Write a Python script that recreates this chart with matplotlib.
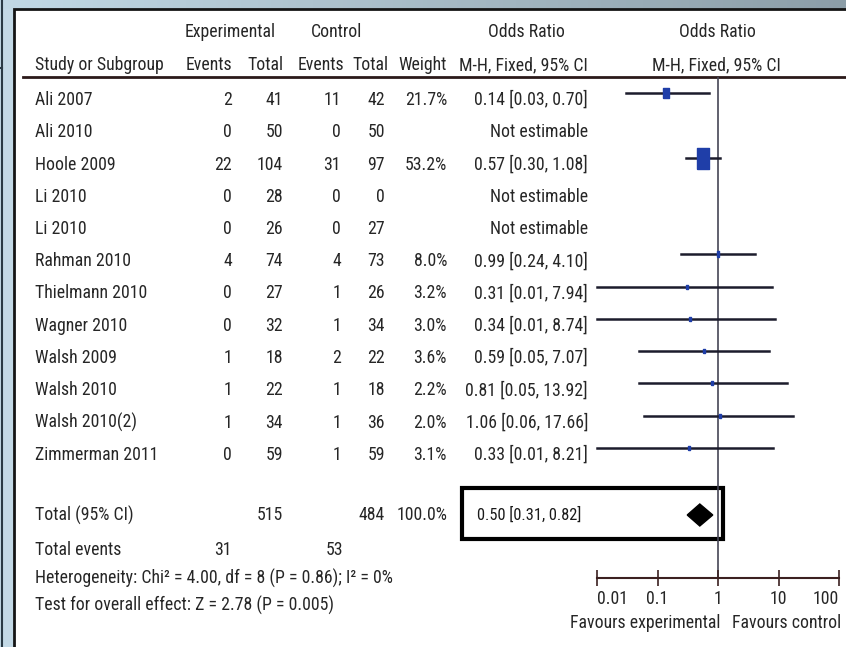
import numpy as np
import matplotlib
matplotlib.use('Agg')
import matplotlib.pyplot as plt
from matplotlib import font_manager
from matplotlib.font_manager import FontProperties
from matplotlib.textpath import TextPath
from matplotlib.patches import Rectangle, Polygon
from matplotlib.path import Path

# data
studies = ['Ali 2007', 'Ali 2010', 'Hoole 2009', 'Li 2010', 'Li 2010', 'Rahman 2010',
           'Thielmann 2010', 'Wagner 2010', 'Walsh 2009', 'Walsh 2010', 'Walsh 2010(2)',
           'Zimmerman 2011']
exp_events = [2, 0, 22, 0, 0, 4, 0, 0, 1, 1, 1, 0]
exp_total = [41, 50, 104, 28, 26, 74, 27, 32, 18, 22, 34, 59]
ctrl_events = [11, 0, 31, 0, 0, 4, 1, 1, 2, 1, 1, 1]
ctrl_total = [42, 50, 97, 0, 27, 73, 26, 34, 22, 18, 36, 59]
weight = [21.7, None, 53.2, None, None, 8.0, 3.2, 3.0, 3.6, 2.2, 2.0, 3.1]
odds = [0.14, None, 0.57, None, None, 0.99, 0.31, 0.34, 0.59, 0.81, 1.06, 0.33]
ci_low = [0.03, None, 0.30, None, None, 0.24, 0.01, 0.01, 0.05, 0.05, 0.06, 0.01]
ci_high = [0.70, None, 1.08, None, None, 4.10, 7.94, 8.74, 7.07, 13.92, 17.66, 8.21]

tot_exp, tot_ctrl = 515, 484
tot_exp_ev, tot_ctrl_ev = 31, 53
tot_or, tot_lo, tot_hi = 0.50, 0.31, 0.82
ticks = [0.01, 0.1, 1, 10, 100]
tick_labels = ['0.01', '0.1', '1', '10', '100']


# find a narrow/condensed sans font if one is installed
def pick_font():
    fl = font_manager.fontManager.ttflist
    def ok(f):
        return f.style == 'normal' and f.weight in (400, 'normal', 'regular')
    for nm in ['Liberation Sans Narrow', 'Arial Narrow', 'Roboto Condensed',
               'Open Sans Condensed', 'Noto Sans Condensed']:
        for f in fl:
            if f.name == nm and ok(f):
                return f.fname
    for nm in ['DejaVu Sans', 'Noto Sans', 'Open Sans', 'Roboto', 'Liberation Sans']:
        for f in fl:
            if f.name == nm and ok(f) and f.stretch in ('condensed', 'semi-condensed', 'extra-condensed', 75, 87, 62):
                return f.fname
    for f in fl:
        low = f.fname.lower()
        if ('narrow' in low or 'condensed' in low) and 'sans' in low and 'mono' not in low \
                and 'bold' not in low and 'italic' not in low and 'oblique' not in low \
                and 'light' not in low and 'medium' not in low and 'semi' not in low \
                and 'extra' not in low and 'thin' not in low and 'black' not in low:
            return f.fname
    return None


fpath = pick_font()
if fpath:
    base = FontProperties(fname=fpath)
else:
    base = FontProperties(family='Liberation Sans')

# size the font so the header text spans about what it does in the picture
tp = TextPath((0, 0), 'Study or Subgroup', size=12, prop=base)
wpx = (tp.get_extents().x1 - tp.get_extents().x0) * 100 / 72
fs = min(12 * 127 / wpx, 13.5)
prop = base.copy()
prop.set_size(fs)
prop_small = base.copy()
prop_small.set_size(fs * 0.92)

W, H = 846, 647
fig = plt.figure(figsize=(W / 100, H / 100), dpi=100)
fig.patch.set_facecolor('#c3d9e6')

# background axes in pixel coords
bg = fig.add_axes([0, 0, 1, 1])
bg.set_xlim(0, W)
bg.set_ylim(H, 0)
bg.axis('off')

grad = np.linspace(0, 1, 200)
cols = np.array([[0.76, 0.85, 0.90]]) * (1 - grad[:, None]) + np.array([[0.55, 0.62, 0.66]]) * grad[:, None]
bg.imshow(cols[None, :, :], extent=(0, W, 9, 0), aspect='auto')
bg.plot([2, 2], [0, H], color='#2a3a45', lw=1.5)
bg.plot([0, 2], [68, 68], color='#2a3a45', lw=1.5)
bg.add_patch(Rectangle((14, 9), W, H, facecolor='white', edgecolor='#151515', lw=2))

tc = '#262626'
xs_label = 35


def txt(x, y, s, ha='left', color=tc, fp=None):
    bg.text(x, y, s, ha=ha, va='center', fontproperties=fp or prop, color=color)


# headers
txt(230, 32, 'Experimental', 'center')
txt(337, 32, 'Control', 'center')
txt(526, 32, 'Odds Ratio', 'center')
txt(717, 32, 'Odds Ratio', 'center')
txt(xs_label, 65, 'Study or Subgroup')
txt(232, 65, 'Events', 'right')
txt(283, 65, 'Total', 'right')
txt(344, 65, 'Events', 'right')
txt(388, 65, 'Total', 'right')
txt(447, 65, 'Weight', 'right')
txt(588, 65, 'M-H, Fixed, 95% CI', 'right')
txt(716, 65, 'M-H, Fixed, 95% CI', 'center')
bg.plot([23, W], [77, 77], color='#2b1a1a', lw=2)

row_text = [100 + 32.25 * i for i in range(len(studies))]
row_mark = [y - 7 for y in row_text]

for i, s in enumerate(studies):
    y = row_text[i]
    txt(xs_label, y, s)
    txt(232, y, str(exp_events[i]), 'right')
    txt(283, y, str(exp_total[i]), 'right')
    txt(341, y, str(ctrl_events[i]), 'right')
    txt(385, y, str(ctrl_total[i]), 'right')
    if weight[i] is not None:
        txt(447, y, f'{weight[i]:.1f}%', 'right')
        txt(588, y, f'{odds[i]:.2f} [{ci_low[i]:.2f}, {ci_high[i]:.2f}]', 'right')
    else:
        txt(588, y, 'Not estimable', 'right')

# totals
txt(xs_label, 515, 'Total (95% CI)')
txt(283, 515, str(tot_exp), 'right')
txt(385, 515, str(tot_ctrl), 'right')
txt(447, 515, '100.0%', 'right')
txt(581, 515, f'{tot_or:.2f} [{tot_lo:.2f}, {tot_hi:.2f}]', 'right', '#1a1a1a', prop_small)
bg.add_patch(Rectangle((462, 488), 261, 51, facecolor='none', edgecolor='black', lw=3))
txt(xs_label, 550, 'Total events')
txt(232, 550, str(tot_exp_ev), 'right')
txt(343, 550, str(tot_ctrl_ev), 'right')
txt(xs_label, 578, 'Heterogeneity: Chi² = 4.00, df = 8 (P = 0.86); I² = 0%')
txt(xs_label, 605, 'Test for overall effect: Z = 2.78 (P = 0.005)')
txt(720, 623, 'Favours experimental', 'right')
txt(732, 623, 'Favours control')

# forest axes: 60.5 px per decade, 1 at x=718
left, right, top, bottom = 590, 846, 77, 578
fa = fig.add_axes([left / W, 1 - bottom / H, (right - left) / W, (bottom - top) / H])
fa.patch.set_visible(False)
fa.set_xscale('log')
fa.set_xlim(10 ** ((left - 718) / 60.5), 10 ** ((right - 718) / 60.5))
fa.set_ylim(bottom, top)
for sp in ['top', 'right', 'left']:
    fa.spines[sp].set_visible(False)
fa.spines['bottom'].set_bounds(0.01, 100)
fa.spines['bottom'].set_color('#3b2020')
fa.spines['bottom'].set_linewidth(1.5)
fa.set_yticks([])
fa.set_xticks(ticks)
fa.set_xticklabels(tick_labels, fontproperties=prop)
fa.xaxis.set_minor_locator(matplotlib.ticker.NullLocator())
fa.tick_params(axis='x', direction='inout', length=11, width=1.2, color='#3b2020',
               labelcolor=tc, pad=3)
# the end labels sit inside the axis ends, as in the picture
fa.get_xticklabels()[0].set_horizontalalignment('left')
fa.get_xticklabels()[-1].set_horizontalalignment('right')
fa.axvline(1, color='#454555', lw=1.2, zorder=1)

box = Path([(-0.55, -1), (0.55, -1), (0.55, 1), (-0.55, 1), (-0.55, -1)])
for i in range(len(studies)):
    if odds[i] is None:
        continue
    y = row_mark[i]
    fa.plot([ci_low[i], ci_high[i]], [y, y], color='#1c1c2c', lw=1.8, zorder=2)
    h = 2.5 + 18.5 * weight[i] / 53.2
    fa.plot([odds[i]], [y], marker=box, markersize=h * 0.72, color='#1f3ea8',
            markeredgecolor='#1f3ea8', zorder=3)

fa.add_patch(Polygon([(tot_lo, 515), (tot_or, 504), (tot_hi, 515), (tot_or, 526)],
                     closed=True, facecolor='black', edgecolor='black', zorder=3))

fig.savefig('out.png', dpi=100, facecolor=fig.get_facecolor())
